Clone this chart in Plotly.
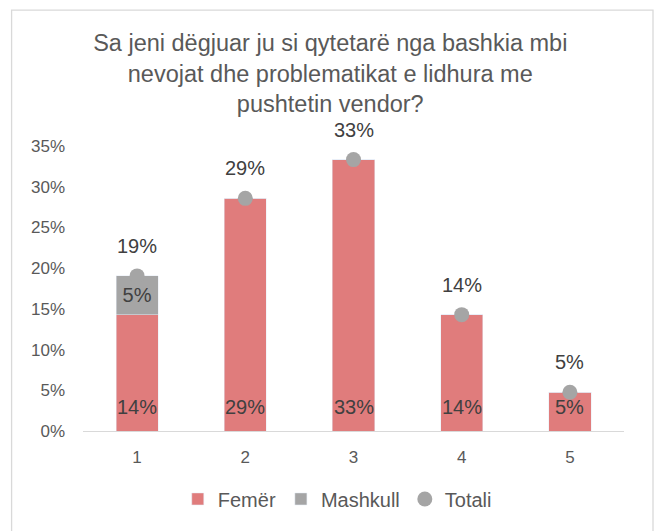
import plotly.graph_objects as go

categories = ["1", "2", "3", "4", "5"]
femer = [14.29, 28.57, 33.33, 14.29, 4.76]
mashkull = [4.76, 0, 0, 0, 0]
totali = [19.05, 28.57, 33.33, 14.29, 4.76]
yticks = [0, 5, 10, 15, 20, 25, 30, 35]

FONT = "Liberation Sans, Arial, sans-serif"
TXT = "#404040"
RED = "#E07C7C"
GRAY = "#A5A5A5"

fig = go.Figure()
fig.add_trace(go.Bar(
    x=categories, y=femer, name="Femër", marker=dict(color=RED),
    hoverinfo="skip",
))
fig.add_trace(go.Bar(
    x=categories, y=mashkull, name="Mashkull", marker=dict(color=GRAY),
    text=[f"{v:.0f}%" if v > 0 else "" for v in mashkull],
    textposition="inside", insidetextanchor="middle",
    textfont=dict(family=FONT, size=20, color=TXT), hoverinfo="skip",
))
fig.add_trace(go.Scatter(
    x=categories, y=totali, name="Totali", mode="markers",
    marker=dict(color=GRAY, size=15, symbol="circle"), hoverinfo="skip",
    cliponaxis=False,
))

# annotations on a category axis use the category index
for i, v in enumerate(femer):
    fig.add_annotation(x=i, y=0, text=f"{v:.0f}%", showarrow=False,
                       yshift=24, font=dict(family=FONT, size=20, color=TXT))
for i, v in enumerate(totali):
    fig.add_annotation(x=i, y=v, text=f"{v:.0f}%", showarrow=False,
                       yshift=30, font=dict(family=FONT, size=20, color=TXT))

fig.add_shape(type="rect", xref="paper", yref="paper",
              x0=-0.132, x1=1.0536, y0=-0.37, y1=1.477,
              line=dict(color="#D9D9D9", width=1.3), layer="below")

fig.update_layout(
    width=654, height=531,
    margin=dict(l=83, r=30, t=146, b=97),
    paper_bgcolor="white", plot_bgcolor="white",
    barmode="stack", bargap=0.61,
    font=dict(family=FONT, color="#595959"),
    title=dict(
        text="Sa jeni dëgjuar ju si qytetarë nga bashkia mbi<br>nevojat dhe problematikat e lidhura me<br>pushtetin vendor?",
        x=0.505, xref="container", xanchor="center",
        y=0.904, yref="container", yanchor="middle",
        font=dict(family=FONT, size=23.5, color="#595959"),
    ),
    xaxis=dict(type="category", range=[-0.5, 4.5], showline=True,
               linecolor="#D9D9D9", linewidth=1.3, ticks="",
               tickfont=dict(family=FONT, size=17, color="#595959"),
               ticklabelstandoff=10,
               showgrid=False, fixedrange=True),
    yaxis=dict(range=[0, 35], tickvals=yticks,
               ticktext=[f"{t}%" for t in yticks],
               showgrid=False, zeroline=False, showline=False, ticks="",
               tickfont=dict(family=FONT, size=17, color="#595959"),
               ticklabelstandoff=17, fixedrange=True),
    legend=dict(orientation="h", x=0.47, xanchor="center", y=-0.17,
                yanchor="top", font=dict(family=FONT, size=20, color="#595959"),
                traceorder="normal"),
    showlegend=True,
)

fig.write_html("out.html", config={"displayModeBar": False},
               post_script="document.body.style.margin='0';")
